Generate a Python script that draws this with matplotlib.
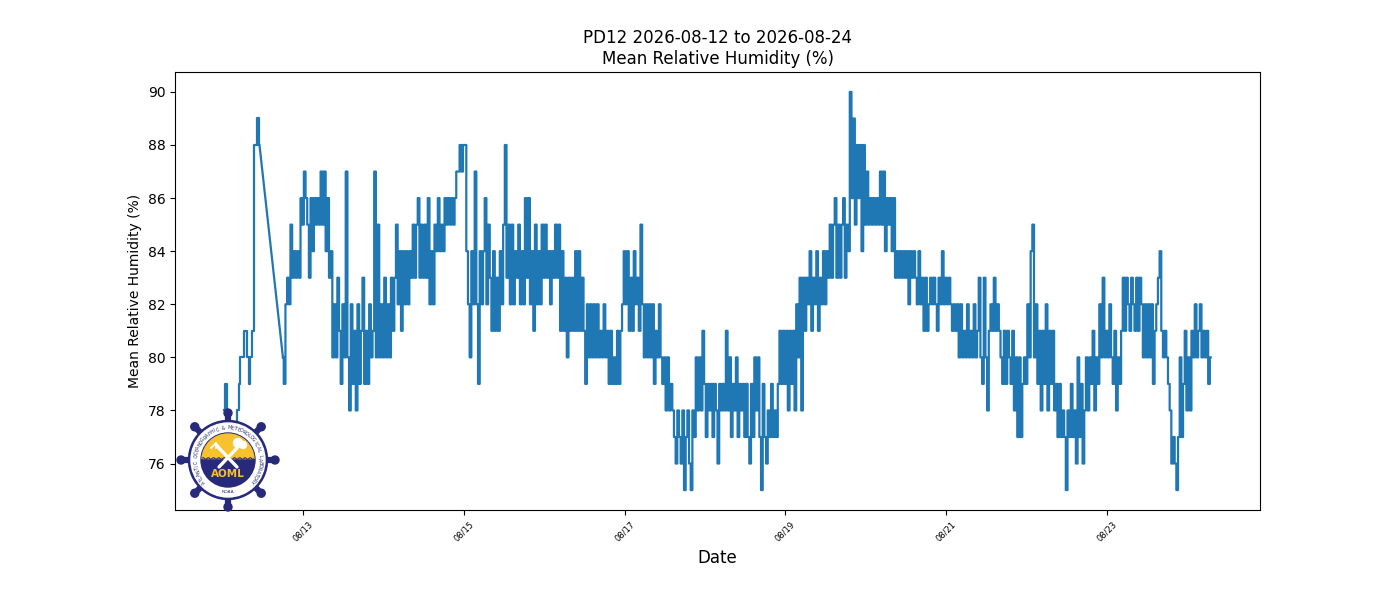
import numpy as np
import pandas as pd
import matplotlib
matplotlib.use('Agg')
import matplotlib.pyplot as plt
import matplotlib.dates as mdates
from matplotlib.patches import Circle, Wedge

nan = np.nan

# half-hourly mean relative humidity (%), one list per day starting 00:00
day_0812 = [nan, 78, 79, 77, 76, 76, 77, 76, 77, 78, 79, 80, 80, 81, 81, 80, 79, 80, 81, 88, 88, 89, 88,
            nan, nan, nan, nan, nan, nan, nan, nan, nan, nan, nan, nan, nan,
            80, 79, 82, 83, 82, 85, 83, 84, 83, 84, 83, 86]
day_0813 = [85, 87, 86, 85, 83, 86, 84, 86, 85, 86, 85, 87, 85, 87, 84, 86, 83, 84, 80, 82, 80, 83, 81, 79,
            82, 80, 87, 80, 78, 82, 79, 81, 78, 82, 79, 81, 83, 79, 81, 79, 82, 80, 81, 87, 80, 85, 80, 82]
day_0814 = [80, 83, 80, 82, 80, 83, 81, 83, 85, 82, 84, 81, 84, 82, 84, 82, 84, 83, 85, 83, 85, 86, 83, 85,
            83, 85, 83, 86, 82, 84, 82, 85, 84, 86, 84, 85, 84, 86, 85, 86, 85, 86, 85, 86, 87, 87, 88, 87]
day_0815 = [88, 88, 84, 82, 80, 84, 82, 87, 82, 79, 84, 82, 84, 86, 82, 85, 83, 81, 84, 81, 83, 81, 84, 82,
            85, 88, 83, 85, 82, 85, 82, 84, 83, 85, 82, 84, 82, 86, 83, 86, 82, 84, 81, 85, 82, 84, 82, 85]
day_0816 = [83, 85, 83, 84, 82, 84, 83, 85, 83, 85, 81, 84, 81, 83, 80, 83, 81, 83, 81, 84, 81, 84, 81, 83,
            81, 79, 82, 80, 82, 80, 82, 80, 82, 80, 81, 80, 82, 80, 81, 79, 81, 79, 80, 79, 81, 79, 81, 82]
day_0817 = [84, 82, 84, 81, 83, 81, 84, 82, 83, 81, 85, 82, 80, 82, 80, 82, 80, 82, 79, 81, 80, 82, 80, 79,
            80, 78, 80, 78, 79, 78, 77, 76, 78, 77, 76, 78, 75, 77, 78, 76, 75, 78, 77, 80, 78, 80, 78, 81]
day_0818 = [79, 77, 79, 78, 79, 77, 79, 78, 76, 79, 78, 79, 78, 81, 78, 80, 77, 79, 78, 80, 77, 79, 78, 79,
            77, 79, 77, 76, 79, 77, 80, 78, 80, 77, 75, 79, 77, 76, 78, 77, 79, 77, 78, 77, 79, 81, 79, 81]
day_0819 = [79, 81, 78, 81, 79, 81, 78, 82, 80, 83, 78, 83, 81, 83, 82, 84, 81, 83, 82, 84, 81, 83, 82, 84,
            82, 84, 83, 85, 83, 85, 86, 83, 85, 83, 85, 86, 83, 85, 84, 90, 86, 89, 85, 88, 86, 88, 84, 88]
day_0820 = [85, 87, 85, 86, 85, 86, 85, 86, 85, 87, 85, 87, 84, 86, 85, 86, 84, 86, 83, 84, 83, 84, 83, 84,
            83, 84, 82, 84, 83, 84, 83, 82, 84, 82, 83, 81, 83, 81, 82, 83, 82, 83, 82, 81, 83, 82, 84, 82]
day_0821 = [83, 82, 83, 82, 81, 82, 81, 82, 80, 82, 80, 81, 80, 82, 80, 81, 80, 82, 80, 81, 83, 80, 79, 83,
            80, 78, 81, 82, 81, 83, 81, 82, 81, 80, 79, 81, 79, 81, 80, 79, 81, 78, 80, 77, 80, 77, 79, 80]
day_0822 = [79, 82, 80, 84, 85, 80, 82, 79, 81, 78, 81, 79, 82, 78, 81, 79, 81, 78, 79, 77, 79, 77, 78, 77,
            75, 78, 77, 79, 77, 78, 76, 80, 77, 79, 76, 78, 80, 78, 80, 79, 81, 78, 80, 79, 82, 80, 83, 80]
day_0823 = [81, 80, 82, 80, 79, 81, 78, 80, 79, 81, 83, 81, 83, 82, 81, 83, 82, 81, 83, 81, 83, 82, 80, 82,
            80, 82, 80, 82, 79, 81, 82, 83, 84, 81, 80, 81, 80, 79, 78, 76, 77, 76, 75, 77, 80, 77, 79, 81]
day_0824 = [78, 80, 78, 81, 80, 82, 80, 81, 82, 80, 81, 80, 81, 79, 80]

humidity = np.array(day_0812 + day_0813 + day_0814 + day_0815 + day_0816 + day_0817 + day_0818
                    + day_0819 + day_0820 + day_0821 + day_0822 + day_0823 + day_0824, dtype=float)
times = pd.date_range('2026-08-12 00:00', periods=len(humidity), freq='30min')

fig, ax = plt.subplots(figsize=(14, 6), dpi=100)
fig.subplots_adjust(left=0.125, right=0.9, bottom=0.15, top=0.88)

# contiguous runs drawn as steps, gaps bridged with a straight line
blue = '#1f77b4'
valid = ~np.isnan(humidity)
idx = np.flatnonzero(valid)
breaks = np.flatnonzero(np.diff(idx) > 1)
starts = np.r_[idx[0], idx[breaks + 1]]
ends = np.r_[idx[breaks], idx[-1]]
for s, e in zip(starts, ends):
    ax.plot(times[s:e + 1], humidity[s:e + 1], color=blue, linewidth=1.6, drawstyle='steps-mid')
for e, s in zip(ends[:-1], starts[1:]):
    ax.plot([times[e], times[s]], [humidity[e], humidity[s]], color=blue, linewidth=1.6)

ax.set_title('PD12 2026-08-12 to 2026-08-24\nMean Relative Humidity (%)', fontsize=12)
ax.set_xlabel('Date', fontsize=12)
ax.set_ylabel('Mean Relative Humidity (%)', fontsize=10)
ax.xaxis.set_major_locator(mdates.DayLocator(bymonthday=range(1, 32, 2)))
ax.xaxis.set_major_formatter(mdates.DateFormatter('%m/%d'))
plt.setp(ax.get_xticklabels(), rotation=45, fontsize=6)

# AOML logo, drawn roughly
navy = '#27297a'
gold = '#f8c22e'
lx, ly, ls = 228, 460, 104
logo = fig.add_axes([(lx - ls / 2) / 1400, (600 - ly - ls / 2) / 600, ls / 1400, ls / 600])
logo.set_xlim(-52, 52)
logo.set_ylim(-52, 52)
logo.set_aspect('equal')
logo.axis('off')
for a in np.arange(0, 360, 45):
    r = np.deg2rad(a)
    logo.plot([0, 45 * np.cos(r)], [0, 45 * np.sin(r)], color=navy, lw=4.5,
              solid_capstyle='round', zorder=0.5)
    logo.add_patch(Circle((47 * np.cos(r), 47 * np.sin(r)), 4, color=navy, zorder=0.5))
logo.add_patch(Circle((0, 0), 39.5, color=navy))
logo.add_patch(Circle((0, 0), 37, color='white'))
logo.add_patch(Circle((0, 0), 27, color=navy))
logo.add_patch(Wedge((0, 0), 26, 3, 177, color=gold))
wx = np.linspace(-25.5, 25.5, 60)
logo.fill_between(wx, 1.5 + 0.8 * np.sin(wx * 1.2), -3, color=gold, lw=0)
logo.add_patch(Wedge((0, 0), 26, 180, 360, color=navy))
logo.plot(wx, 1.5 + 0.8 * np.sin(wx * 1.2), color=navy, lw=0.8)
logo.plot([-11, 9], [14, -7], color='white', lw=2.4, solid_capstyle='round')
logo.plot([9, -9], [12, -7], color='white', lw=2.4, solid_capstyle='round')
logo.plot([-17, -12, -8], [12, 17, 11], color='white', lw=1.3)
logo.plot([-12, -12], [17, 12], color='white', lw=1.3)
logo.add_patch(Circle((10, 17), 4.5, color='white', zorder=2))
logo.add_patch(Circle((15, 15), 3.5, color='white', zorder=2))
logo.text(0, -14, 'AOML', color=gold, fontsize=7.5, fontweight='bold', ha='center', va='center')
ring = 'ATLANTIC OCEANOGRAPHIC & METEOROLOGICAL LABORATORY'
angs = np.linspace(222, -42, len(ring))
for ch, a in zip(ring, angs):
    r = np.deg2rad(a)
    logo.text(32 * np.cos(r), 32 * np.sin(r), ch, fontsize=3.4, color=navy,
              rotation=a - 90, ha='center', va='center')
logo.text(0, -32, 'NOAA', fontsize=3.2, color=navy, ha='center', va='center')

fig.savefig('out.png', dpi=100)
